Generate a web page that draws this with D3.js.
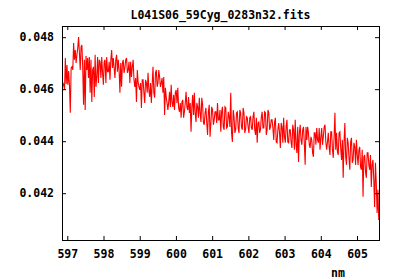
<!DOCTYPE html>
<html>
<head>
<meta charset="utf-8">
<script src="https://cdn.jsdelivr.net/npm/d3@7"></script>
<style>
  body { margin: 0; background: #fff; }
  text { font-family: "DejaVu Sans Mono", monospace; font-weight: bold; font-size: 11.5px; fill: #000; }
</style>
</head>
<body>
<svg id="chart" width="400" height="280"></svg>
<script>
var title = "L041S06_59Cyg_0283n32.fits";
var xLabel = "nm";

// wavelength grid, like CRVAL1 / CDELT1 in the fits header
var lambdaStart = 596.855;
var lambdaStep = 0.022833;

var xTicks = [597, 598, 599, 600, 601, 602, 603, 604, 605];
var yTicks = [0.042, 0.044, 0.046, 0.048];

// flux, blue end first
var flux1 = [
  .04590, .04624, .04617, .04597, .04720, .04620, .04693, .04617, .04670, .04613,
  .04509, .04682, .04686, .04674, .04778, .04713, .04751, .04701, .04732, .04759,
  .04801, .04740, .04674, .04763, .04770, .04686, .04540, .04713, .04520, .04728,
  .04674, .04720, .04643, .04724, .04586, .04713, .04551, .04674, .04686, .04570,
  .04732, .04609, .04647, .04724, .04624, .04713, .04705, .04643, .04724, .04663,
  .04617, .04705, .04713, .04624, .04724, .04667, .04667, .04705, .04636, .04713,
  .04751, .04682, .04720, .04682
];
var flux2 = [
  .04643, .04713, .04732, .04667, .04713, .04674, .04586, .04701, .04609, .04701,
  .04713, .04663, .04682, .04713, .04720, .04663, .04674, .04705, .04624, .04705,
  .04647, .04686, .04713, .04636, .04609, .04643, .04551, .04674, .04628, .04609,
  .04597, .04624, .04528, .04636, .04636, .04586, .04547, .04636, .04624, .04586,
  .04663, .04597, .04570, .04624, .04547, .04617, .04686, .04586, .04567, .04663,
  .04674, .04609, .04624, .04674, .04647, .04609, .04624, .04643, .04586, .04647,
  .04501, .04605, .04570, .04547
];
var flux3 = [
  .04520, .04551, .04590, .04532, .04617, .04547, .04532, .04578, .04520, .04586,
  .04597, .04547, .04605, .04528, .04513, .04547, .04490, .04551, .04559, .04490,
  .04513, .04547, .04590, .04532, .04520, .04570, .04509, .04547, .04436, .04532,
  .04578, .04501, .04586, .04509, .04474, .04547, .04532, .04490, .04567, .04509,
  .04474, .04567, .04540, .04470, .04463, .04509, .04528, .04470, .04424, .04513,
  .04540, .04417, .04470, .04532, .04520, .04463, .04482, .04513, .04513, .04470,
  .04547, .04482, .04482, .04520
];
var flux4 = [
  .04436, .04513, .04532, .04455, .04444, .04532, .04528, .04451, .04455, .04513,
  .04494, .04455, .04586, .04432, .04397, .04520, .04494, .04432, .04444, .04509,
  .04513, .04451, .04432, .04520, .04509, .04455, .04444, .04528, .04509, .04432,
  .04444, .04494, .04490, .04455, .04432, .04490, .04494, .04451, .04444, .04494,
  .04513, .04444, .04424, .04490, .04394, .04470, .04474, .04432, .04444, .04494,
  .04513, .04451, .04451, .04513, .04509, .04424, .04444, .04520, .04509, .04444,
  .04455, .04482, .04482, .04451
];
var flux5 = [
  .04405, .04474, .04490, .04397, .04394, .04444, .04470, .04432, .04374, .04470,
  .04455, .04394, .04490, .04417, .04394, .04455, .04482, .04397, .04394, .04444,
  .04444, .04397, .04374, .04463, .04444, .04367, .04482, .04386, .04355, .04455,
  .04320, .04432, .04463, .04405, .04386, .04444, .04455, .04394, .04309, .04455,
  .04405, .04455, .04432, .04386, .04374, .04417, .04405, .04355, .04340, .04432,
  .04432, .04386, .04451, .04405, .04394, .04451, .04367, .04417, .04451, .04386,
  .04417, .04455, .04463, .04397
];
var flux6 = [
  .04367, .04397, .04432, .04378, .04347, .04436, .04436, .04367, .04336, .04417,
  .04509, .04367, .04432, .04359, .04347, .04432, .04436, .04374, .04328, .04405,
  .04259, .04394, .04470, .04340, .04309, .04413, .04394, .04336, .04290, .04397,
  .04413, .04317, .04328, .04394, .04378, .04309, .04405, .04347, .04309, .04367,
  .04378, .04301, .04290, .04367, .04186, .04340, .04347, .04282, .04259, .04355,
  .04355, .04309, .04290, .04347, .04224, .04309, .04328, .04251, .04147, .04317,
  .04240, .04124, .04213, .04097
];

var flux = flux1.concat(flux2, flux3, flux4, flux5, flux6);
var spectrum = flux.map(function(f, i) {
  return {nm: lambdaStart + i * lambdaStep, flux: f};
});

var svg = d3.select("#chart");
var plotLeft = 62, plotRight = 379, plotTop = 26, plotBottom = 240;

var x = d3.scaleLinear().domain([596.854, 605.607]).range([plotLeft, plotRight]);
var y = d3.scaleLinear().domain([0.04020, 0.04843]).range([plotBottom, plotTop]);

svg.append("clipPath").attr("id", "plotclip")
  .append("rect")
  .attr("x", plotLeft).attr("y", plotTop)
  .attr("width", plotRight - plotLeft).attr("height", plotBottom - plotTop);

// the spectrum
var line = d3.line()
  .x(function(d) { return x(d.nm); })
  .y(function(d) { return y(d.flux); });

svg.append("path")
  .datum(spectrum)
  .attr("clip-path", "url(#plotclip)")
  .attr("fill", "none")
  .attr("stroke", "#ff0000")
  .attr("stroke-width", 1.1)
  .attr("d", line);

// axes, ticks pointing in on all four sides
var fmtY = d3.format(".3f");

svg.append("g")
  .attr("transform", "translate(0," + plotBottom + ")")
  .call(d3.axisBottom(x).tickValues(xTicks).tickSizeInner(-4).tickSizeOuter(0).tickPadding(10).tickFormat(d3.format("d")));

svg.append("g")
  .attr("transform", "translate(0," + plotTop + ")")
  .call(d3.axisTop(x).tickValues(xTicks).tickSizeInner(-4).tickSizeOuter(0).tickFormat(""));

svg.append("g")
  .attr("transform", "translate(" + plotLeft + ",0)")
  .call(d3.axisLeft(y).tickValues(yTicks).tickSizeInner(-4).tickSizeOuter(0).tickPadding(8).tickFormat(fmtY));

svg.append("g")
  .attr("transform", "translate(" + plotRight + ",0)")
  .call(d3.axisRight(y).tickValues(yTicks).tickSizeInner(-4).tickSizeOuter(0).tickFormat(""));

svg.selectAll(".domain").remove();
svg.selectAll(".tick line").attr("stroke", "#000");
svg.selectAll(".tick text")
  .attr("font-family", null)
  .attr("font-size", null)
  .attr("fill", "#000");

// frame
svg.append("rect")
  .attr("x", plotLeft + 0.5).attr("y", plotTop + 0.5)
  .attr("width", plotRight - plotLeft).attr("height", plotBottom - plotTop)
  .attr("fill", "none")
  .attr("stroke", "#000")
  .attr("stroke-width", 1);

svg.append("text")
  .attr("x", (plotLeft + plotRight) / 2)
  .attr("y", 19)
  .attr("text-anchor", "middle")
  .text(title);

svg.append("text")
  .attr("x", 338)
  .attr("y", 277)
  .attr("text-anchor", "middle")
  .text(xLabel);
</script>
</body>
</html>
